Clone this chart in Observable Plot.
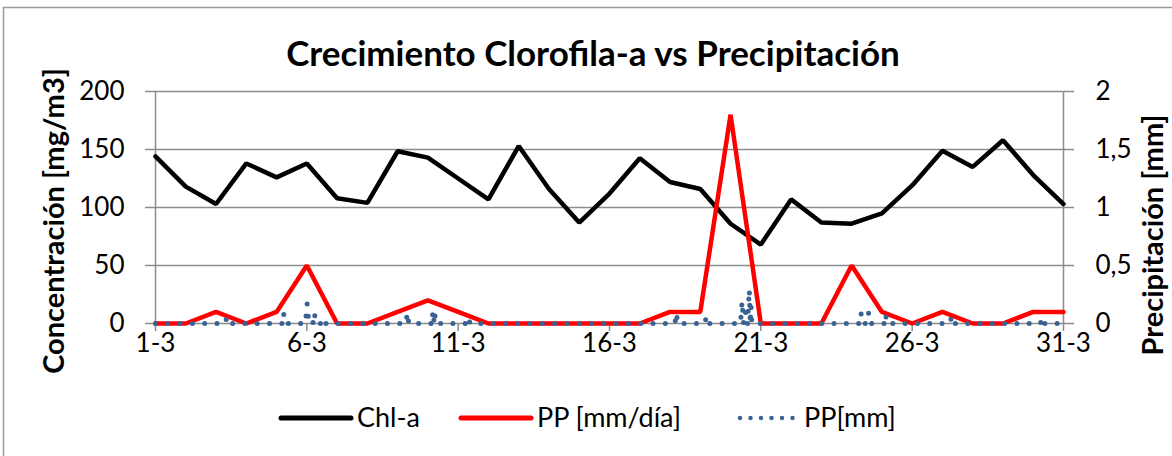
<!DOCTYPE html>
<html>
<head>
<meta charset="utf-8">
<script src="https://cdn.jsdelivr.net/npm/d3@7"></script>
<script src="https://cdn.jsdelivr.net/npm/@observablehq/plot@0.6"></script>
<style>
  html, body { margin: 0; padding: 0; background: #fff; }
  #chart { width: 1172px; height: 456px; overflow: hidden; }
</style>
</head>
<body>
<div id="chart"></div>
<script>
// ---- data ----
const days = [1,2,3,4,5,6,7,8,9,10,11,12,13,14,15,16,17,18,19,20,21,22,23,24,25,26,27,28,29,30,31];
const chlA = [144,118,103,138,126,138,108,104,148.5,143,125,107,153,116,87,112,142.5,122,116,86,68,107,87,86,95,119,149,135,158,128,103];
const ppDia = [0,0,0.1,0,0.1,0.5,0,0,0.1,0.2,0.1,0,0,0,0,0,0,0.1,0.1,1.8,0,0,0,0.5,0.1,0,0.1,0,0,0.1,0.1];
const ppMmTime = [1, 3.3,3.35,3.4, 5.18,5.23,5.28, 5.95,6.01,6.07, 6.2,6.25,6.3, 6.5,6.55,6.6,
  9.27,9.32,9.37, 10.1,10.15,10.19,10.22,10.26, 11.29,11.34,11.39, 18.16,18.21,18.26, 19.15,19.2,19.25,
  20.33,20.38,20.43,20.5,20.56,20.62,20.65,20.68,20.7,20.74, 24.26,24.31,24.36, 24.51,24.56,24.61,
  25.07,25.12,25.17, 27.25,27.3,27.35, 30.24,30.29,30.34, 31];
const ppMmVal = [0, 0,0.05,0, 0,0.09,0, 0,0.17,0, 0,0.09,0, 0,0.04,0,
  0,0.09,0, 0,0.09,0,0.1,0, 0,0.05,0, 0,0.09,0, 0,0.06,0,
  0,0.19,0,0.1,0,0.29,0,0.15,0,0, 0,0.09,0, 0,0.09,0,
  0,0.08,0, 0,0.06,0, 0,0.05,0, 0];
const xTicks = [1,6,11,16,21,26,31];
const yTicksLeft = [0,50,100,150,200];
const yTicksRight = [0,0.5,1,1.5,2];
const title = "Crecimiento Clorofila-a vs Precipitación";
const yLabelLeft = "Concentración [mg/m3]";
const yLabelRight = "Precipitación [mm]";
const legendNames = ["Chl-a", "PP [mm/día]", "PP[mm]"];

// right axis mapped onto left scale (0..2 -> 0..200)
const k = 100;
const chlData = days.map((d, i) => ({day: d, v: chlA[i]}));
const ppDiaData = days.map((d, i) => ({day: d, v: ppDia[i] * k}));
const ppMmData = ppMmTime.map((t, i) => ({day: t, v: ppMmVal[i] * k}));

const gray = "#8c8c8c";
const font = "Lato, 'Open Sans', sans-serif";

const plot = Plot.plot({
  width: 1172,
  height: 456,
  marginLeft: 155,
  marginRight: 109,
  marginTop: 91,
  marginBottom: 133,
  style: {fontFamily: font, fontSize: "26px", color: "#000", background: "#fff", overflow: "visible"},
  x: {domain: [1, 31]},
  y: {domain: [0, 200]},
  marks: [
    Plot.ruleY(yTicksLeft, {stroke: gray, strokeWidth: 1.5}),
    Plot.ruleX([1, 31], {stroke: gray, strokeWidth: 1.5}),
    Plot.axisY({anchor: "left", ticks: yTicksLeft, tickSize: 10, tickPadding: 21, stroke: gray, strokeWidth: 1.5, fill: "#000", label: null, fontSize: 26}),
    Plot.axisY({anchor: "right", ticks: yTicksRight.map(v => v * k), tickSize: 10, tickPadding: 22, stroke: gray, strokeWidth: 1.5, fill: "#000", label: null, fontSize: 26,
      tickFormat: d => String(d / k).replace(".", ",")}),
    Plot.axisX({ticks: xTicks, tickSize: 8, tickPadding: 2, stroke: gray, strokeWidth: 1.5, fill: "#000", label: null, fontSize: 26,
      tickFormat: d => d + "-3"}),
    Plot.line(chlData, {x: "day", y: "v", stroke: "#000", strokeWidth: 4.5, strokeLinejoin: "miter"}),
    Plot.line(ppDiaData, {x: "day", y: "v", stroke: "#ff0000", strokeWidth: 4.5, strokeLinejoin: "miter"}),
    Plot.line(ppMmData, {x: "day", y: "v", stroke: "#3a6394", strokeWidth: 5, strokeDasharray: "0,12.3", strokeLinecap: "round"})
  ]
});

const svg = d3.select(plot);
// outer border
svg.insert("rect", ":first-child")
  .attr("x", 3.5).attr("y", 7.5).attr("width", 1180).attr("height", 460)
  .attr("fill", "none").attr("stroke", "#9a9a9a").attr("stroke-width", 1.5);

svg.append("text").attr("x", 593).attr("y", 66).attr("text-anchor", "middle")
  .attr("font-family", font).attr("font-size", 35).attr("font-weight", "bold").attr("fill", "#000")
  .text(title);

svg.append("text").attr("transform", "translate(64,221) rotate(-90)").attr("text-anchor", "middle")
  .attr("font-family", font).attr("font-size", 29).attr("font-weight", "bold").attr("fill", "#000")
  .text(yLabelLeft);
svg.append("text").attr("transform", "translate(1163,235) rotate(-90)").attr("text-anchor", "middle")
  .attr("font-family", font).attr("font-size", 29).attr("font-weight", "bold").attr("fill", "#000")
  .text(yLabelRight);

// legend
const ly = 418;
const leg = svg.append("g").attr("font-family", font).attr("font-size", 27).attr("fill", "#000");
const items = [
  {x0: 281, x1: 351, tx: 357, stroke: "#000", dash: null},
  {x0: 461, x1: 531, tx: 537, stroke: "#ff0000", dash: null},
  {x0: 740, x1: 796, tx: 804, stroke: "#3a6394", dash: "0,10.5"}
];
items.forEach((it, i) => {
  const l = leg.append("line").attr("x1", it.x0).attr("x2", it.x1).attr("y1", ly).attr("y2", ly)
    .attr("stroke", it.stroke).attr("stroke-width", i === 2 ? 4.5 : 5).attr("stroke-linecap", "round");
  if (it.dash) l.attr("stroke-dasharray", it.dash);
  leg.append("text").attr("x", it.tx).attr("y", ly).attr("dy", "0.35em").attr("text-anchor", "start").text(legendNames[i]);
});

document.getElementById("chart").appendChild(plot);
</script>
</body>
</html>
